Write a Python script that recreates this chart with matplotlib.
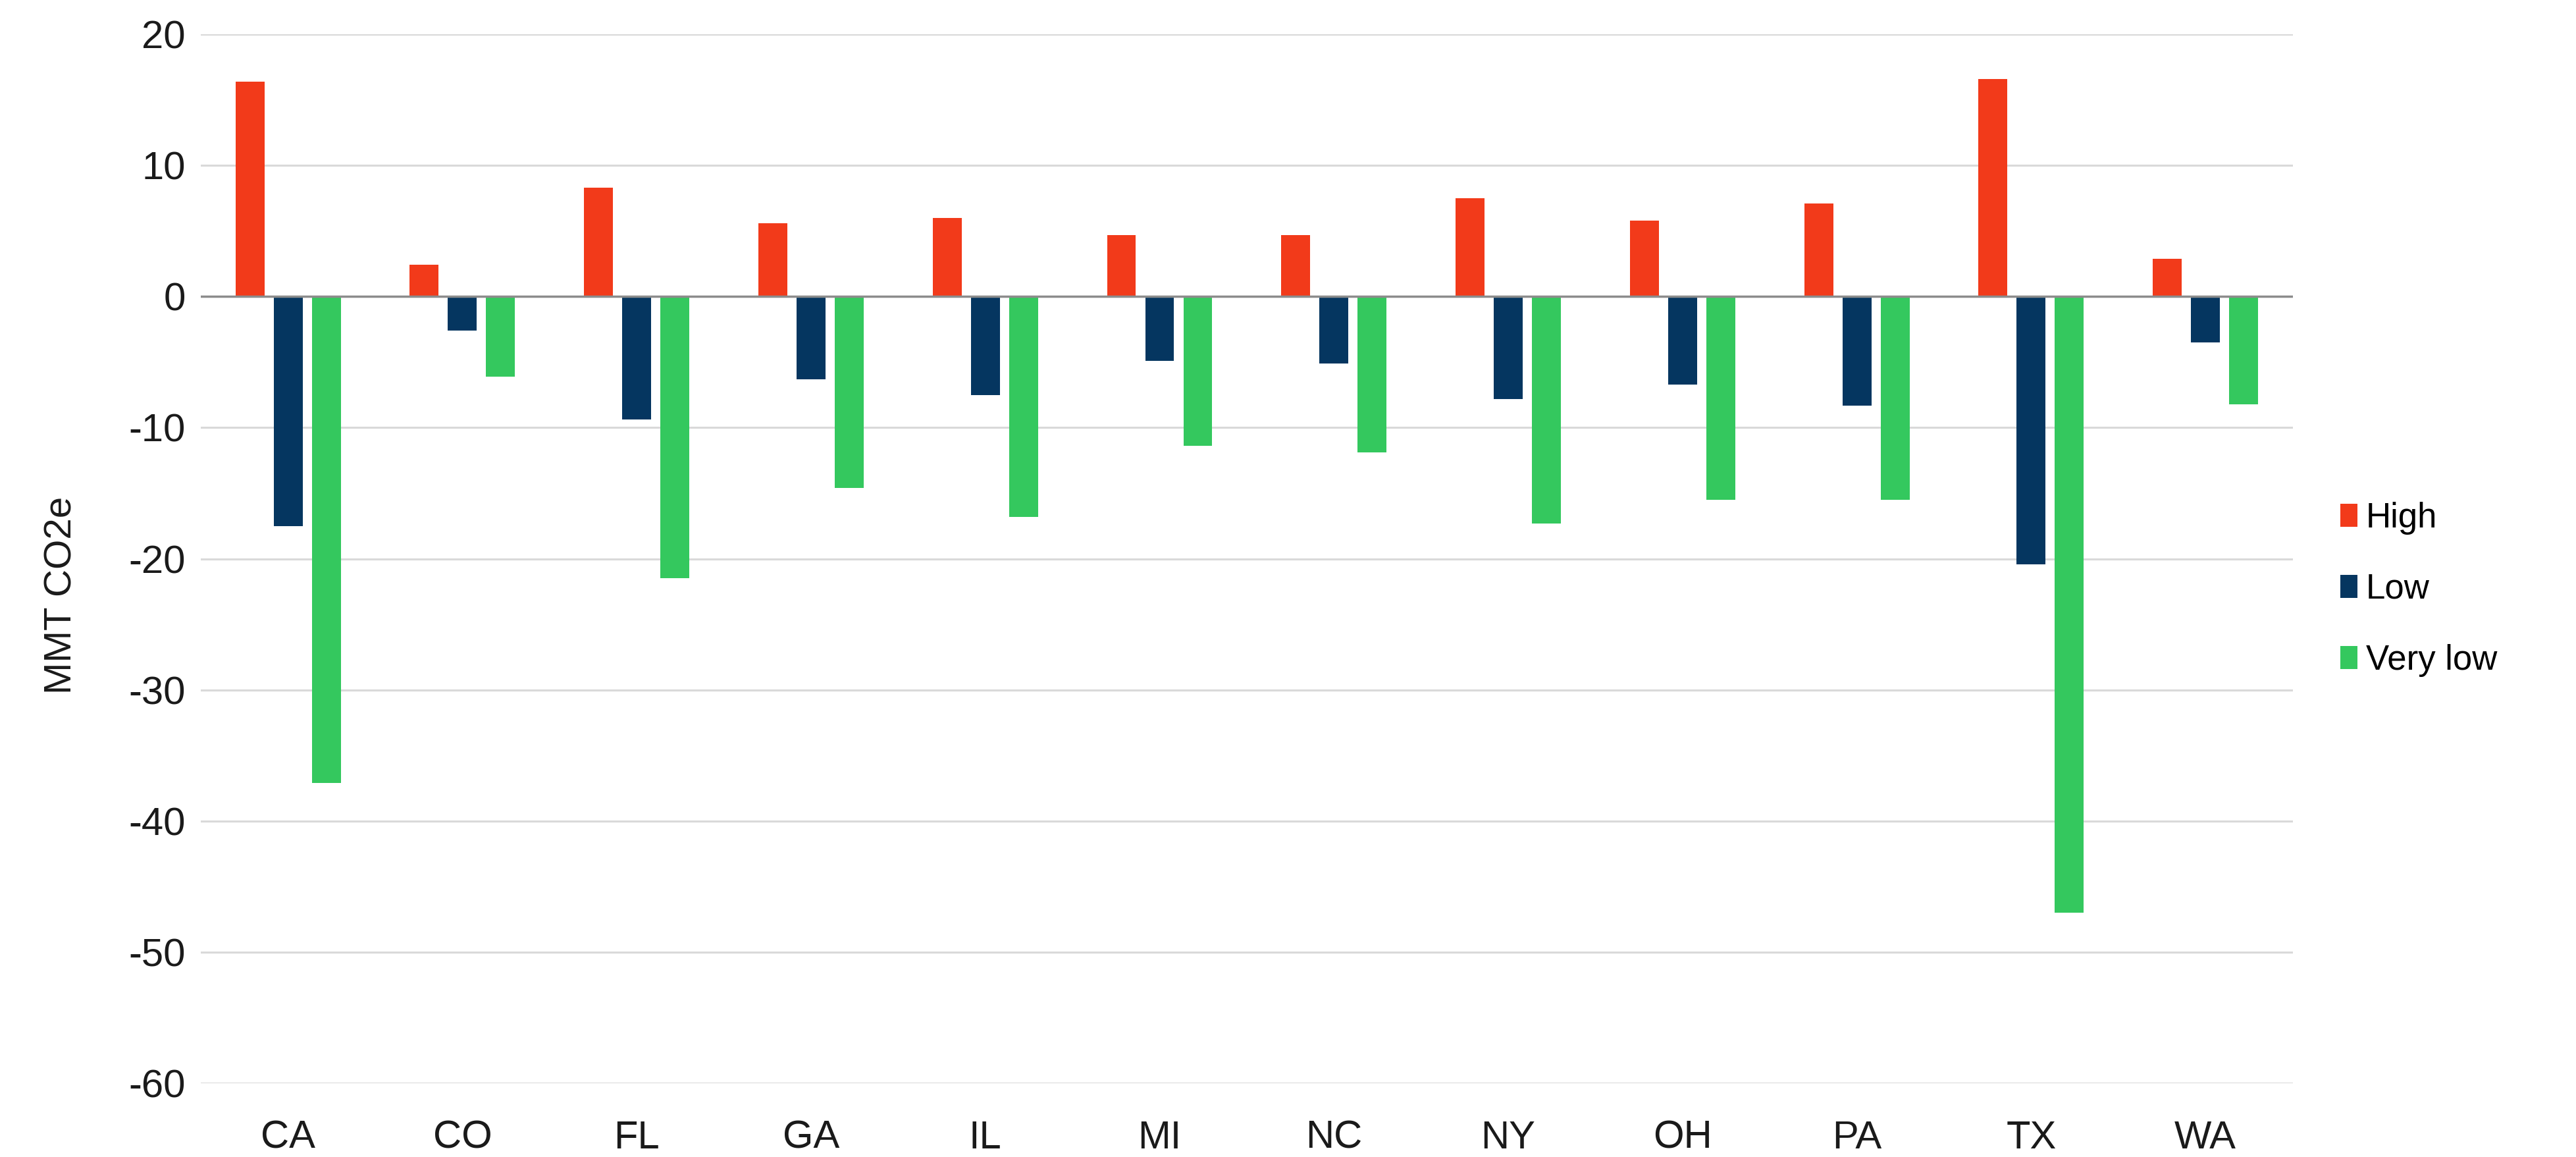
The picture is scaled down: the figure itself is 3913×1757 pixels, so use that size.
import numpy as np
import matplotlib.pyplot as plt

states = ['CA', 'CO', 'FL', 'GA', 'IL', 'MI', 'NC', 'NY', 'OH', 'PA', 'TX', 'WA']
high = [16.4, 2.4, 8.3, 5.6, 6.0, 4.7, 4.7, 7.5, 5.8, 7.1, 16.6, 2.9]
low = [-17.5, -2.6, -9.4, -6.3, -7.5, -4.9, -5.1, -7.8, -6.7, -8.3, -20.4, -3.5]
very_low = [-37.1, -6.1, -21.5, -14.6, -16.8, -11.4, -11.9, -17.3, -15.5, -15.5, -47.0, -8.2]

series = [('High', high, '#F23A1A'),
          ('Low', low, '#053660'),
          ('Very low', very_low, '#34C85E')]

plt.rcParams['font.family'] = ['Liberation Sans', 'DejaVu Sans']
plt.rcParams['axes.unicode_minus'] = False

fig = plt.figure(figsize=(39.13, 17.57), dpi=100)
ax = fig.add_axes([0.078, 0.0637, 0.812, 0.9067])

x = np.arange(len(states))
step = 0.219
width = 0.166
for i, (name, vals, color) in enumerate(series):
    ax.bar(x + (i - 1) * step, vals, width, color=color, label=name, zorder=2)

ax.set_xlim(-0.5, len(states) - 0.5)
ax.set_ylim(-60, 20)
ax.set_yticks(range(-60, 21, 10))
ax.set_xticks(x)
ax.set_xticklabels(states)

ax.yaxis.grid(True, color='#D9D9D9', linewidth=2.2, zorder=0)
ax.axhline(0, color='#8C8C8C', linewidth=2.5, zorder=3)
for s in ax.spines.values():
    s.set_visible(False)
ax.tick_params(axis='both', length=0, labelsize=43, colors='#1A1A1A')
ax.tick_params(axis='y', pad=17)
ax.tick_params(axis='x', pad=40)

ax.set_ylabel('MMT CO2e', fontsize=42, color='#1A1A1A', labelpad=54)
ax.yaxis.label.set_y(0.465)

ax.legend(loc='center left', bbox_to_anchor=(1.016, 0.471), frameon=False,
          fontsize=38, handlelength=0.5, handleheight=0.65, handletextpad=0.25,
          labelspacing=1.1, borderaxespad=0)

fig.savefig('out.png', dpi=100, facecolor='white')
